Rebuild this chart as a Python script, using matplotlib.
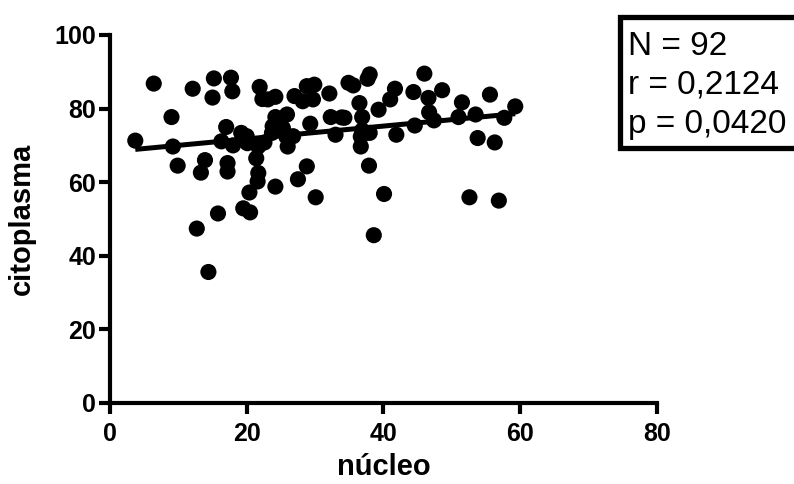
import numpy as np
import matplotlib.pyplot as plt
from matplotlib.patches import Rectangle

# núcleo vs citoplasma, one point per sample
nucleo = [3.7, 6.4, 9.0, 9.2, 9.9, 12.1, 12.7, 13.3, 13.9, 14.4,
          15.2, 15.0, 15.8, 16.3, 17.0, 17.2, 17.2, 17.7, 17.9, 18.0,
          19.2, 19.5, 20.5, 20.1, 20.4, 21.4, 21.7, 21.7, 21.6, 21.9,
          22.3, 23.1, 24.2, 24.2, 24.2, 23.8, 23.7, 25.3, 25.9, 26.0,
          26.8, 27.0, 27.5, 28.2, 28.8, 29.3, 29.7, 29.9, 30.1, 32.1,
          32.3, 33.0, 34.3, 34.9, 35.6, 36.5, 36.7, 36.9, 36.9, 37.7,
          38.0, 38.0, 37.9, 38.6, 39.3, 40.1, 41.0, 41.7, 41.9, 44.4,
          44.6, 46.0, 46.6, 46.7, 47.4, 48.6, 51.0, 51.5, 52.6, 53.5,
          53.8, 55.6, 56.3, 56.9, 57.7, 59.3, 33.9, 36.7, 28.8, 25.8,
          22.6, 20.0]
citoplasma = [71.3, 86.8, 77.7, 69.7, 64.5, 85.4, 47.4, 62.6, 66.0, 35.6,
              88.2, 83.0, 51.5, 71.1, 75.0, 65.2, 62.9, 88.4, 84.7, 70.0,
              73.4, 52.9, 51.8, 70.6, 57.2, 66.5, 69.7, 62.5, 60.2, 85.9,
              82.6, 82.5, 83.2, 58.8, 77.7, 75.2, 73.4, 74.7, 78.4, 69.7,
              72.5, 83.4, 60.8, 82.0, 64.3, 75.9, 82.5, 86.5, 55.9, 84.1,
              77.7, 72.9, 77.5, 87.0, 86.3, 81.5, 69.7, 77.7, 74.1, 88.1,
              89.3, 73.4, 64.5, 45.6, 79.7, 56.8, 82.5, 85.4, 72.9, 84.5,
              75.4, 89.5, 82.9, 79.0, 76.8, 85.0, 77.7, 81.7, 55.9, 78.4,
              72.0, 83.8, 70.8, 55.0, 77.5, 80.6, 77.6, 72.4, 86.1, 72.4,
              70.8, 72.5]

stats_lines = ["N = 92", "r = 0,2124", "p = 0,0420"]

x = np.array(nucleo)
y = np.array(citoplasma)
slope, intercept = np.polyfit(x, y, 1)

plt.rcParams['font.family'] = ['Liberation Sans', 'DejaVu Sans']

W, H = 794, 484
fig = plt.figure(figsize=(W / 100, H / 100), dpi=100)
ax = fig.add_axes([110 / W, 1 - 403 / H, 546.7 / W, 368 / H])

ax.scatter(x, y, s=135, color='black', edgecolors='none', zorder=3, clip_on=False)
xl = np.array([x.min(), x.max()])
ax.plot(xl, intercept + slope * xl, color='black', linewidth=3.6, zorder=4,
        solid_capstyle='butt')

ax.set_xlim(0, 80)
ax.set_ylim(0, 100)
ax.set_xticks([0, 20, 40, 60, 80])
ax.set_yticks([0, 20, 40, 60, 80, 100])

for side in ['top', 'right']:
    ax.spines[side].set_visible(False)
for side in ['left', 'bottom']:
    ax.spines[side].set_linewidth(3)
ax.tick_params(width=3, length=8, labelsize=18)
ax.tick_params(axis='x', pad=6)
ax.tick_params(axis='y', pad=2)
for lab in ax.get_xticklabels() + ax.get_yticklabels():
    lab.set_fontweight('bold')

ax.set_xlabel('núcleo', fontsize=21, fontweight='bold', labelpad=5)
ax.set_ylabel('citoplasma', fontsize=21, fontweight='bold', labelpad=13)

# stats box, running off the right edge of the figure
fig.patches.append(Rectangle((620 / W, 1 - 147.5 / H), 300 / W, 131 / H,
                             transform=fig.transFigure, facecolor='white',
                             edgecolor='black', linewidth=3.8, clip_on=False))
for i, line in enumerate(stats_lines):
    fig.text(628 / W, 1 - (55 + 39 * i) / H, line, fontsize=24,
             va='baseline', ha='left')

fig.savefig('out.png', dpi=100)
